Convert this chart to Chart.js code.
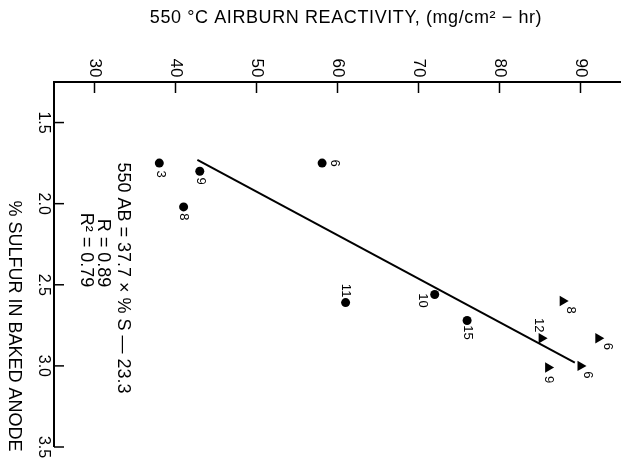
<!DOCTYPE html>
<html>
<head>
<meta charset="utf-8">
<script src="https://cdn.jsdelivr.net/npm/chart.js@4/dist/chart.umd.min.js"></script>
<style>
html,body{margin:0;padding:0;background:#fff;}
canvas{display:block;}
</style>
</head>
<body>
<canvas id="c" width="627" height="462"></canvas>
<script>
// ---- data ----
const xTicks = [30, 40, 50, 60, 70, 80, 90];
const yTicks = [1.5, 2.0, 2.5, 3.0, 3.5];
const circleX = [38.0, 43.0, 41.0, 58.1, 61.0, 72.0, 76.0];
const circleY = [1.75, 1.80, 2.02, 1.75, 2.61, 2.56, 2.72];
const circleN = ['3', '9', '8', '6', '11', '10', '15'];
const triX = [87.8, 85.2, 92.2, 90.0, 86.0];
const triY = [2.60, 2.83, 2.83, 3.00, 3.01];
const triN = ['8', '12', '6', '6', '9'];
const fitX = [42.7, 89.3];
const fitY = [1.73, 2.98];
const xTitle = '550 °C AIRBURN REACTIVITY, (mg/cm² − hr)';
const yTitle = '% SULFUR IN BAKED ANODE';
const noteLines = ['550 AB = 37.7 × % S — 23.3', 'R = 0.89', 'R² = 0.79'];

// ---- layout (label offsets in px, not data) ----
const circleOff = [[1, 11], [1, 10], [0, 10], [12, 0], [0, -12], [-12, 6], [0, 12]];
const triOff = [[8, 9], [-3, -13], [9, 8], [7, 9], [0, 12]];
const FONT = '"Liberation Sans", Arial, Helvetica, sans-serif';

function pts(xs, ys) { return xs.map((x, i) => ({ x: x, y: ys[i] })); }

function rotText(ctx, txt, x, y, size) {
  ctx.save();
  ctx.translate(x, y);
  ctx.rotate(Math.PI / 2);
  ctx.font = size + 'px ' + FONT;
  ctx.textAlign = 'center';
  ctx.textBaseline = 'middle';
  ctx.fillText(txt, 0, 0);
  ctx.restore();
}

const decor = {
  id: 'decor',
  afterDraw(chart) {
    const ctx = chart.ctx;
    const xs = chart.scales.x, ys = chart.scales.y;
    const a = chart.chartArea;
    ctx.save();
    ctx.strokeStyle = '#000';
    ctx.fillStyle = '#000';
    // axes
    ctx.lineWidth = 2;
    ctx.beginPath();
    ctx.moveTo(a.left, a.bottom);
    ctx.lineTo(a.left, a.top);
    ctx.lineTo(a.right, a.top);
    ctx.stroke();
    // x ticks
    ctx.lineWidth = 1.5;
    xTicks.forEach(v => {
      const px = xs.getPixelForValue(v);
      ctx.beginPath();
      ctx.moveTo(px, a.top);
      ctx.lineTo(px, a.top + 11);
      ctx.stroke();
      rotText(ctx, String(v), px, a.top - 14, 17);
    });
    // y ticks
    yTicks.forEach(v => {
      const py = ys.getPixelForValue(v);
      ctx.beginPath();
      ctx.moveTo(a.left, py);
      ctx.lineTo(a.left + 10, py);
      ctx.stroke();
      rotText(ctx, v.toFixed(1), a.left - 11, py, 16);
    });
    // titles
    ctx.save();
    ctx.font = '18px ' + FONT;
    ctx.letterSpacing = '0.6px';
    ctx.textAlign = 'center';
    ctx.textBaseline = 'middle';
    ctx.fillText(xTitle, 346, 18);
    ctx.restore();
    rotText(ctx, yTitle, 14, 326, 18);
    // note
    rotText(ctx, noteLines[0], 123, 278, 18);
    rotText(ctx, noteLines[1], 103, 253, 18);
    rotText(ctx, noteLines[2], 86, 250, 18);
    // point labels
    const m0 = chart.getDatasetMeta(0).data;
    m0.forEach((el, i) => rotText(ctx, circleN[i], el.x + circleOff[i][0], el.y + circleOff[i][1], 13));
    const m1 = chart.getDatasetMeta(1).data;
    m1.forEach((el, i) => rotText(ctx, triN[i], el.x + triOff[i][0], el.y + triOff[i][1], 13));
    ctx.restore();
  }
};

new Chart(document.getElementById('c'), {
  type: 'scatter',
  data: {
    datasets: [
      { data: pts(circleX, circleY), pointStyle: 'circle', pointRadius: 4.5,
        backgroundColor: '#000', borderColor: '#000', borderWidth: 0 },
      { data: pts(triX, triY), pointStyle: 'triangle', rotation: 90, pointRadius: 6,
        backgroundColor: '#000', borderColor: '#000', borderWidth: 0 },
      { data: pts(fitX, fitY), showLine: true, pointRadius: 0, borderColor: '#000',
        borderWidth: 2, backgroundColor: '#000' }
    ]
  },
  options: {
    responsive: false,
    devicePixelRatio: 1,
    animation: false,
    layout: { padding: { left: 54, top: 82, right: 5, bottom: 15 } },
    plugins: { legend: { display: false }, tooltip: { enabled: false } },
    scales: {
      x: { type: 'linear', position: 'top', min: 25, max: 95, display: false },
      y: { type: 'linear', reverse: true, min: 1.25, max: 3.5, display: false }
    }
  },
  plugins: [decor]
});
</script>
</body>
</html>
